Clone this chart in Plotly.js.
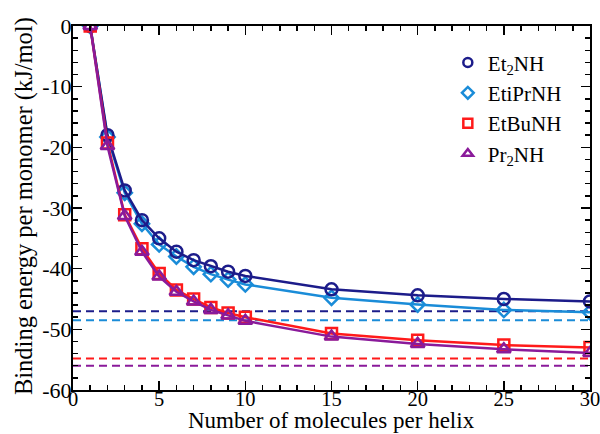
<!DOCTYPE html>
<html>
<head>
<meta charset="utf-8">
<script src="https://cdn.plot.ly/plotly-3.0.1.min.js"></script>
<style>html,body{margin:0;padding:0;background:#fff;}#chart{width:600px;height:434px;}</style>
</head>
<body>
<div id="chart"></div>
<script>
// ---- data ----
const helixSize = [1, 2, 3, 4, 5, 6, 7, 8, 9, 10, 15, 20, 25, 30];
const et2NH   = [0, -18.0, -27.1, -32.0, -35.0, -37.2, -38.6, -39.6, -40.5, -41.2, -43.4, -44.4, -45.0, -45.4];
const etiPrNH = [0, -18.3, -27.5, -32.6, -36.0, -38.0, -39.7, -40.9, -41.8, -42.6, -44.8, -45.9, -46.8, -47.2];
const etBuNH  = [0, -19.3, -31.1, -36.7, -40.8, -43.5, -45.0, -46.4, -47.3, -48.0, -50.7, -51.8, -52.6, -53.0];
const pr2NH   = [0, -19.8, -31.3, -37.2, -41.3, -43.8, -45.4, -46.8, -47.7, -48.6, -51.2, -52.4, -53.3, -53.9];
const seriesNames = ['Et<sub>2</sub>NH', 'EtiPrNH', 'EtBuNH', 'Pr<sub>2</sub>NH'];
const limitValues = [-47.0, -48.5, -54.8, -56.0];   // dashed infinite-helix limits
const xRange = [0, 30];
const yTickVals = [0, -10, -20, -30, -40, -50, -60];
const yTickText = ['0', '-10', '-20', '-30', '-40', '-50', '-60'];
const xTickVals = [0, 5, 10, 15, 20, 25, 30];
const xTickText = ['0', '5', '10', '15', '20', '25', '30'];
const xTitle = 'Number of molecules per helix';
const yTitle = 'Binding energy per monomer (kJ/mol)';

// ---- styles ----
const colors = ['#1c1c8a', '#1a8cd8', '#ff1a1a', '#8a1a9a'];
const symbols = ['circle-open', 'diamond-open', 'square-open', 'triangle-up-open'];
const sizes = [12, 11, 11, 12];
const seriesData = [et2NH, etiPrNH, etBuNH, pr2NH];
const FAM = 'Liberation Serif';

const traces = [];
limitValues.forEach((v, i) => {
  traces.push({
    x: xRange, y: [v, v], mode: 'lines', showlegend: false, hoverinfo: 'skip',
    line: {color: colors[i], width: 2, dash: '8px,5px'}
  });
});
[1, 0, 2, 3].forEach(i => {
  traces.push({
    x: helixSize, y: seriesData[i], mode: 'lines+markers', showlegend: false,
    line: {color: colors[i], width: 2.5},
    marker: {symbol: symbols[i], size: sizes[i], color: colors[i], line: {width: 2.5, color: colors[i]}}
  });
});
[0, 1, 2, 3].forEach(i => {
  traces.push({
    x: [null], y: [null], mode: 'markers', name: seriesNames[i], showlegend: true,
    marker: {symbol: symbols[i], size: 9, color: colors[i], line: {width: 2.5, color: colors[i]}}
  });
});

const layout = {
  width: 600, height: 434,
  margin: {l: 73, r: 10, t: 26, b: 44},
  paper_bgcolor: '#fff', plot_bgcolor: '#fff',
  font: {family: FAM, size: 21, color: '#000'},
  showlegend: true,
  legend: {
    x: 0.725, y: 0.955, xanchor: 'left', yanchor: 'top',
    font: {family: FAM, size: 21, color: '#000'},
    bgcolor: 'rgba(0,0,0,0)', tracegroupgap: 0, itemwidth: 30
  },
  xaxis: {
    range: xRange, tickmode: 'array', tickvals: xTickVals, ticktext: xTickText,
    ticks: 'inside', ticklen: 9, tickwidth: 1.5, tickcolor: '#000',
    minor: {dtick: 1, ticks: 'inside', ticklen: 5, tickwidth: 1.5, tickcolor: '#000'},
    showline: true, linecolor: '#000', linewidth: 2, mirror: 'allticks',
    showgrid: false, zeroline: false, ticklabeloverflow: 'allow', ticklabelstandoff: -11,
    tickfont: {family: FAM, size: 20.5, color: '#000'}
  },
  yaxis: {
    range: [-60, 0], tickmode: 'array', tickvals: yTickVals, ticktext: yTickText,
    ticks: 'inside', ticklen: 9, tickwidth: 1.5, tickcolor: '#000',
    minor: {dtick: 2, ticks: 'inside', ticklen: 5, tickwidth: 1.5, tickcolor: '#000'},
    showline: true, linecolor: '#000', linewidth: 2, mirror: 'allticks',
    showgrid: false, zeroline: false, ticklabeloverflow: 'allow', ticklabelstandoff: -5,
    tickfont: {family: FAM, size: 22, color: '#000'}
  },
  annotations: [
    {text: xTitle, xref: 'paper', yref: 'paper', x: 0.5, y: -0.083, xanchor: 'center', yanchor: 'middle',
     showarrow: false, font: {family: FAM, size: 23, color: '#000'}},
    {text: yTitle, xref: 'paper', yref: 'paper', x: -0.095, y: 0.505, xanchor: 'center', yanchor: 'middle',
     textangle: -90, showarrow: false, font: {family: FAM, size: 24.5, color: '#000'}}
  ]
};

Plotly.newPlot('chart', traces, layout, {staticPlot: true, displayModeBar: false});
</script>
</body>
</html>
